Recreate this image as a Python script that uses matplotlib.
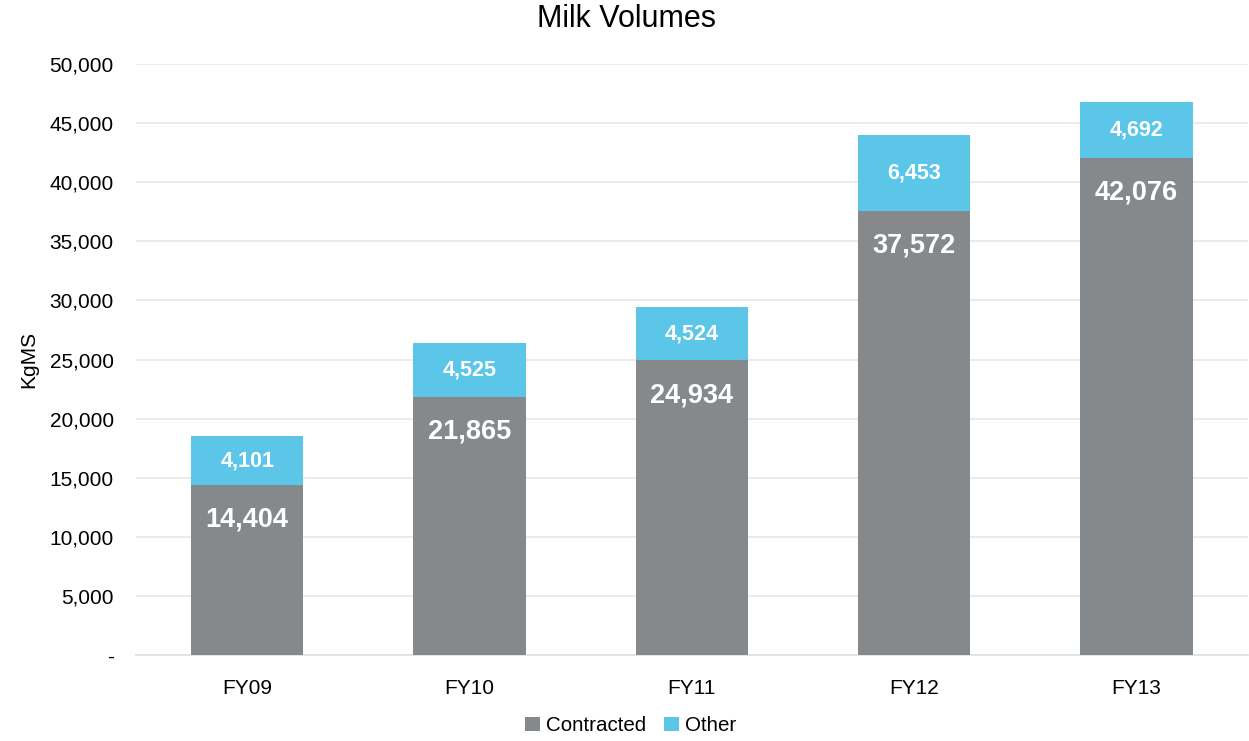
import matplotlib
matplotlib.use("Agg")
import matplotlib.pyplot as plt
from matplotlib.ticker import FuncFormatter, MultipleLocator

categories = ["FY09", "FY10", "FY11", "FY12", "FY13"]
contracted = [14404, 21865, 24934, 37572, 42076]
other = [4101, 4525, 4524, 6453, 4692]

plt.rcParams['font.family'] = ['Liberation Sans', 'DejaVu Sans']

fig = plt.figure(figsize=(12.49, 7.41), dpi=100)
ax = fig.add_axes([0.1089, 0.116, 0.890, 0.7976])

gray = "#86898B"
cyan = "#5BC6E8"
x = list(range(len(categories)))
ax.bar(x, contracted, width=0.505, color=gray, label="Contracted", zorder=3)
ax.bar(x, other, width=0.505, bottom=contracted, color=cyan, label="Other", zorder=3)

for xi, c, o in zip(x, contracted, other):
    ax.annotate(f"{c:,}", (xi, c), xytext=(0, -25), textcoords="offset points",
                ha="center", va="center", color="white", fontsize=19.5, fontweight="bold", zorder=4)
    ax.text(xi, c + o / 2, f"{o:,}", ha="center", va="center", color="white",
            fontsize=15.5, fontweight="bold", zorder=4)

ax.set_xlim(-0.5, 4.5)
ax.set_ylim(0, 50000)
ax.yaxis.set_major_locator(MultipleLocator(5000))
ax.yaxis.set_major_formatter(FuncFormatter(lambda v, p: "-" if v == 0 else f"{int(v):,}"))
ax.grid(axis="y", color="#E8E8E8", linewidth=1.2, zorder=0)
ax.set_xticks(x)
ax.set_xticklabels(categories)
for s in ["top", "right", "left"]:
    ax.spines[s].set_visible(False)
ax.spines["bottom"].set_color("#E0E0E0")
ax.spines["bottom"].set_linewidth(1.2)
ax.tick_params(axis="both", length=0, labelsize=15, colors="#000000")
ax.tick_params(axis="x", pad=17)
ax.tick_params(axis="y", pad=16)
ax.set_ylabel("KgMS", fontsize=15, labelpad=8)
fig.text(0.502, 0.975, "Milk Volumes", ha="center", va="center", fontsize=22)

fig.legend(loc="center", bbox_to_anchor=(0.505, 0.021), ncol=2, frameon=False,
           fontsize=14.8, handlelength=0.7, handleheight=0.7, handletextpad=0.3, columnspacing=0.9)

fig.savefig("out.png", dpi=100)
